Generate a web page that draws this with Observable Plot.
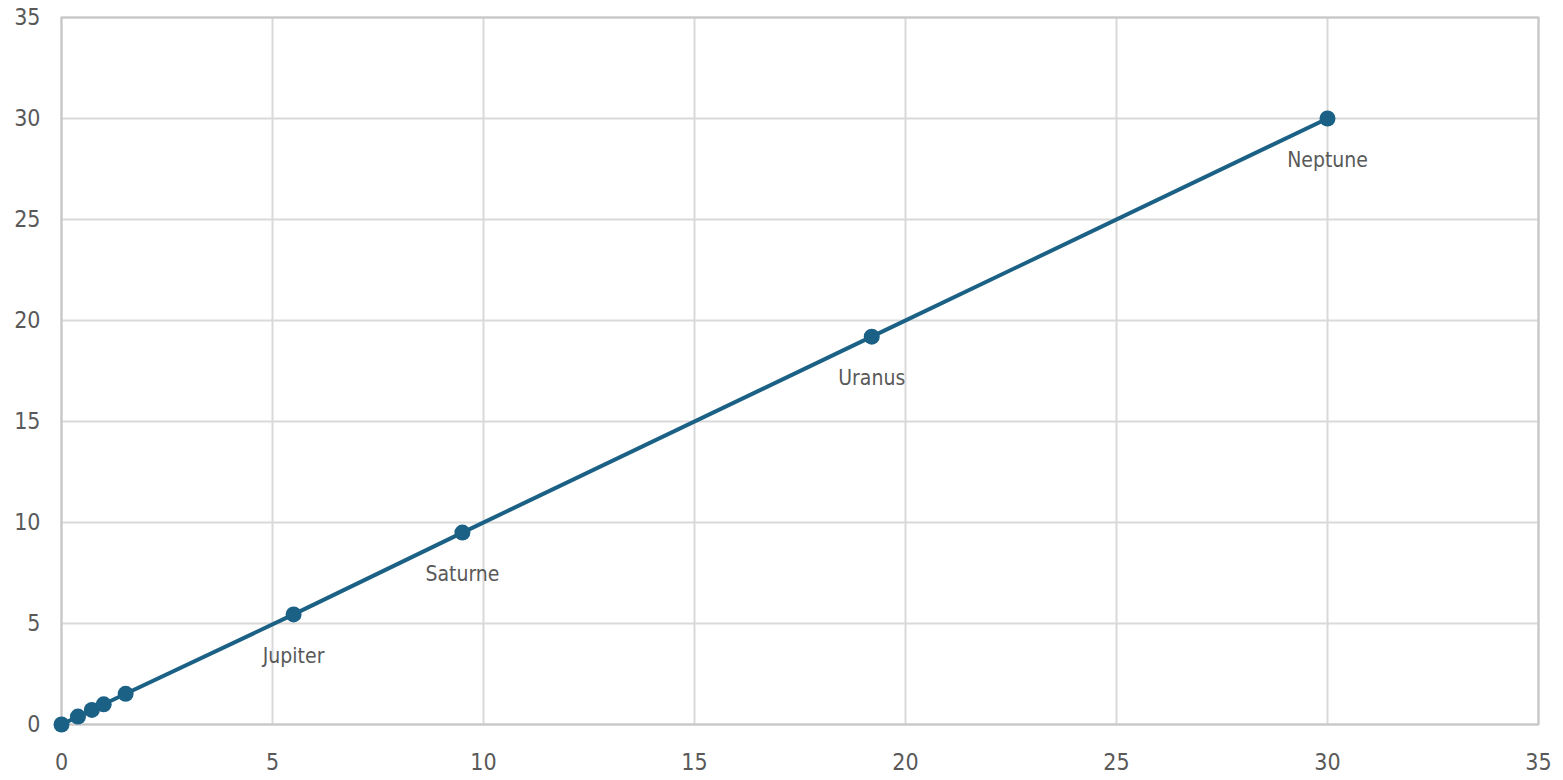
<!DOCTYPE html>
<html>
<head>
<meta charset="utf-8">
<script src="https://cdn.jsdelivr.net/npm/d3@7"></script>
<script src="https://cdn.jsdelivr.net/npm/@observablehq/plot@0.6"></script>
<style>
  html, body { margin: 0; padding: 0; background: #fff; }
  #chart svg { display: block; }
</style>
</head>
<body>
<div id="chart"></div>
<script>
const bodies = ["Soleil", "Mercure", "Vénus", "Terre", "Mars", "Jupiter", "Saturne", "Uranus", "Neptune"];
const xValues = [0, 0.39, 0.72, 1, 1.52, 5.5, 9.5, 19.2, 30];
const yValues = [0, 0.39, 0.72, 1, 1.52, 5.45, 9.5, 19.2, 30];
const pointLabels = ["", "", "", "", "", "Jupiter", "Saturne", "Uranus", "Neptune"];
const ticks = [0, 5, 10, 15, 20, 25, 30, 35];

const data = bodies.map((name, i) => ({ name, x: xValues[i], y: yValues[i], label: pointLabels[i] }));
const labelled = data.filter(d => d.label !== "");

const font = "'Liberation Sans Narrow', 'DejaVu Sans Condensed', 'Roboto', sans-serif";
const lineColor = "#1b6185";

const chart = Plot.plot({
  width: 1563,
  height: 780,
  marginLeft: 61,
  marginRight: 25,
  marginTop: 17,
  marginBottom: 56,
  style: { fontFamily: font, background: "#fff" },
  x: { domain: [0, 35] },
  y: { domain: [0, 35] },
  marks: [
    Plot.gridX(ticks, { stroke: "#d9d9d9", strokeOpacity: 1, strokeWidth: 2 }),
    Plot.gridY(ticks, { stroke: "#d9d9d9", strokeOpacity: 1, strokeWidth: 2 }),
    Plot.frame({ stroke: "#c6c6c6", strokeWidth: 2 }),
    Plot.axisX(ticks, { tickSize: 0, tickPadding: 29, fontSize: 23, fill: "#595959", label: null, tickFormat: d => String(d) }),
    Plot.axisY(ticks, { tickSize: 0, tickPadding: 21, fontSize: 23, fill: "#595959", label: null, tickFormat: d => String(d) }),
    Plot.line(data, { x: "x", y: "y", stroke: lineColor, strokeWidth: 4 }),
    Plot.dot(data, { x: "x", y: "y", r: 8, fill: lineColor, stroke: null }),
    Plot.text(labelled, { x: "x", y: "y", text: "label", dy: 42, fontSize: 21, fill: "#595959", textAnchor: "middle" })
  ]
});
document.getElementById("chart").appendChild(chart);
</script>
</body>
</html>
